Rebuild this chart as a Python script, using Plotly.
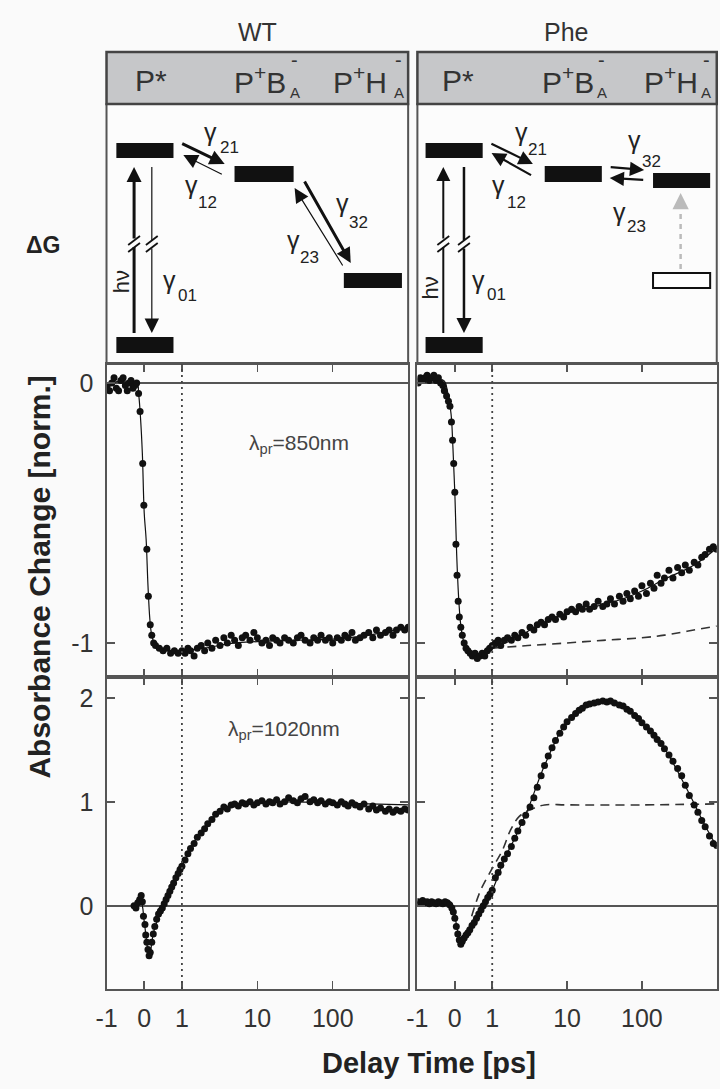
import math
import plotly.graph_objects as go

# ---------------------------------------------------------------- data
tick_vals = [-1, 0, 1, 10, 100]
tick_text = ["-1", "0", "1", "10", "100"]

# shared delay grid for the logarithmic part (ps)
log_t = [1.1, 1.2, 1.3, 1.45, 1.6, 1.8, 2.0, 2.2, 2.5, 2.8,
         3.2, 3.6, 4, 4.5, 5, 5.6, 6.3, 7, 8, 9,
         10, 11.5, 13, 14.5, 16, 18, 20, 23, 26, 30,
         34, 38, 43, 50, 56, 63, 70, 80, 90, 100,
         115, 130, 145, 160, 180, 200, 230, 260, 300, 340,
         380, 430, 500, 560, 630, 700, 800, 900, 1000]

# WT, 850 nm
wt850_early_t = [-0.98, -0.92, -0.86, -0.8, -0.74, -0.68, -0.62, -0.56, -0.5, -0.45,
                 -0.4, -0.35, -0.3, -0.25, -0.2, -0.15, -0.11, -0.04, -0.01, 0.07,
                 0.11, 0.16, 0.2, 0.25, 0.3, 0.4, 0.5, 0.6, 0.7, 0.8, 0.9, 1.0]
wt850_early_y = [-0.01, -0.03, 0.0, 0.02, -0.02, -0.03, 0.01, 0.02, -0.01, -0.03,
                 0.0, 0.01, -0.02, -0.01, 0.0, -0.04, -0.11, -0.31, -0.47, -0.64,
                 -0.82, -0.93, -0.97, -1.0, -1.01, -1.02, -1.03, -1.02, -1.04, -1.03, -1.04, -1.03]
wt850_log_y = [-1.04, -1.02, -1.03, -1.05, -1.02, -1.01, -1.03, -1.00, -1.02, -0.99,
               -1.01, -0.98, -1.00, -0.97, -0.99, -1.01, -0.98, -0.97, -0.99, -0.96,
               -0.98, -1.00, -0.99, -1.01, -0.98, -0.99, -1.00, -0.98, -0.99, -1.00,
               -0.98, -0.97, -0.99, -1.00, -0.98, -0.99, -0.97, -0.99, -0.98, -1.00,
               -0.98, -0.99, -0.97, -0.98, -0.96, -0.99, -0.98, -0.97, -0.96, -0.98,
               -0.95, -0.97, -0.96, -0.95, -0.97, -0.95, -0.94, -0.95, -0.94]
wt850_fit_t = [-1, -0.2, -0.15, -0.1, -0.05, 0, 0.05, 0.1, 0.15, 0.2, 0.3, 0.5, 0.8, 1,
               2, 5, 10, 30, 100, 300, 1000]
wt850_fit_y = [0, 0, -0.04, -0.13, -0.27, -0.5, -0.6, -0.78, -0.91, -0.97, -1.01, -1.025, -1.03, -1.03,
               -1.02, -1.0, -0.995, -0.99, -0.985, -0.97, -0.94]

# Phe, 850 nm
phe850_early_t = [-0.98, -0.92, -0.86, -0.8, -0.74, -0.68, -0.62, -0.56, -0.5, -0.44,
                  -0.38, -0.32, -0.28, -0.22, -0.17, -0.13, -0.09, -0.06, -0.03, 0.0,
                  0.03, 0.06, 0.09, 0.12, 0.16, 0.2, 0.25, 0.3, 0.35, 0.41,
                  0.47, 0.54, 0.6, 0.67, 0.73, 0.8, 0.87, 0.93, 1.0]
phe850_early_y = [0.0, 0.02, 0.01, 0.02, 0.03, 0.01, 0.02, 0.03, 0.01, 0.02,
                  0.0, -0.01, -0.03, -0.05, -0.07, -0.09, -0.15, -0.22, -0.31, -0.42,
                  -0.62, -0.74, -0.84, -0.90, -0.94, -0.97, -1.0, -1.02, -1.03, -1.04,
                  -1.05, -1.04, -1.06, -1.05, -1.04, -1.05, -1.03, -1.02, -1.01]
phe850_log_y = [-1.00, -0.99, -1.01, -0.99, -0.98, -0.99, -0.97, -0.98, -0.96, -0.97,
                -0.94, -0.95, -0.93, -0.92, -0.93, -0.91, -0.90, -0.91, -0.89, -0.90,
                -0.88, -0.87, -0.88, -0.86, -0.87, -0.85, -0.87, -0.86, -0.84, -0.86,
                -0.85, -0.83, -0.85, -0.82, -0.84, -0.81, -0.83, -0.80, -0.82, -0.78,
                -0.81, -0.77, -0.79, -0.74, -0.77, -0.75, -0.72, -0.75, -0.71, -0.73,
                -0.70, -0.72, -0.69, -0.70, -0.67, -0.66, -0.64, -0.63, -0.64]
phe850_fit_t = [-1, -0.3, -0.2, -0.1, -0.05, 0, 0.05, 0.1, 0.15, 0.2, 0.3, 0.5, 0.7, 1,
                1.5, 2, 3, 5, 10, 20, 50, 100, 200, 500, 1000]
phe850_fit_y = [0.015, 0.01, -0.03, -0.12, -0.25, -0.42, -0.66, -0.82, -0.92, -0.97, -1.02, -1.04, -1.045, -1.02,
                -1.0, -0.985, -0.955, -0.92, -0.885, -0.865, -0.835, -0.80, -0.755, -0.70, -0.635]
phe850_dash_t = [1, 3, 10, 30, 100, 200, 400, 1000]
phe850_dash_y = [-1.02, -1.01, -1.0, -0.99, -0.98, -0.97, -0.955, -0.935]

# WT, 1020 nm
wt1020_early_t = [-0.27, -0.22, -0.17, -0.12, -0.08, -0.05, -0.02, 0.02, 0.04, 0.07,
                  0.1, 0.13, 0.16, 0.2, 0.24, 0.28, 0.33, 0.38, 0.43, 0.48,
                  0.53, 0.58, 0.63, 0.68, 0.73, 0.78, 0.84, 0.9, 0.95, 1.0]
wt1020_early_y = [0.0, -0.02, 0.03, 0.06, 0.1, 0.04, -0.1, -0.18, -0.28, -0.35,
                  -0.42, -0.48, -0.45, -0.35, -0.27, -0.2, -0.13, -0.08, -0.05, -0.02,
                  0.02, 0.06, 0.1, 0.14, 0.18, 0.22, 0.27, 0.31, 0.35, 0.38]
wt1020_log_y = [0.44, 0.50, 0.55, 0.60, 0.66, 0.70, 0.74, 0.79, 0.83, 0.88,
                0.91, 0.95, 0.93, 0.97, 0.98, 0.96, 0.99, 0.98, 1.00, 0.97,
                0.99, 1.01, 0.98, 1.00, 0.99, 1.02, 0.98, 1.00, 1.04, 1.01,
                0.99, 1.03, 1.05, 1.00, 1.02, 0.99, 1.01, 0.98, 1.00, 0.99,
                0.97, 1.00, 0.98, 0.96, 0.99, 0.97, 0.95, 0.98, 0.93, 0.96,
                0.92, 0.94, 0.91, 0.93, 0.90, 0.92, 0.91, 0.93, 0.92]
wt1020_fit_t = [-0.27, -0.1, 0, 0.05, 0.1, 0.15, 0.25, 0.5, 0.75, 1, 1.5, 2, 3, 5, 10, 30, 100, 300, 1000]
wt1020_fit_y = [0.0, 0.05, -0.15, -0.3, -0.42, -0.45, -0.25, 0.0, 0.2, 0.38, 0.63, 0.75, 0.89, 0.97, 0.99, 1.0, 0.99, 0.98, 0.97]

# Phe, 1020 nm
phe1020_early_t = [-0.98, -0.92, -0.86, -0.8, -0.74, -0.68, -0.62, -0.56, -0.5, -0.44,
                   -0.38, -0.32, -0.26, -0.2, -0.14, -0.08, -0.04, 0.0, 0.04, 0.08,
                   0.12, 0.16, 0.2, 0.25, 0.3, 0.35, 0.4, 0.46, 0.52, 0.58,
                   0.64, 0.7, 0.76, 0.82, 0.88, 0.94, 1.0]
phe1020_early_y = [0.04, 0.03, 0.05, 0.03, 0.04, 0.02, 0.04, 0.03, 0.02, 0.04,
                   0.03, 0.02, 0.04, 0.03, 0.01, -0.02, -0.06, -0.12, -0.2, -0.27,
                   -0.33, -0.37, -0.34, -0.31, -0.28, -0.26, -0.23, -0.19, -0.16, -0.12,
                   -0.08, -0.04, 0.0, 0.04, 0.08, 0.11, 0.15]
phe1020_log_y = [0.27, 0.32, 0.39, 0.45, 0.50, 0.57, 0.65, 0.72, 0.80, 0.87,
                 0.95, 1.04, 1.14, 1.25, 1.35, 1.44, 1.52, 1.59, 1.66, 1.72,
                 1.77, 1.81, 1.85, 1.88, 1.90, 1.93, 1.94, 1.95, 1.96, 1.97,
                 1.96, 1.97, 1.95, 1.93, 1.92, 1.89, 1.87, 1.83, 1.80, 1.76,
                 1.72, 1.68, 1.64, 1.60, 1.56, 1.51, 1.45, 1.39, 1.32, 1.25,
                 1.16, 1.06, 0.97, 0.90, 0.82, 0.76, 0.67, 0.60, 0.58]
phe1020_fit_t = [-1, -0.1, 0, 0.08, 0.16, 0.3, 0.5, 0.75, 1, 1.5, 2, 3, 5, 10, 20, 35, 60, 100, 200, 400, 700, 1000]
phe1020_fit_y = [0.03, 0.03, -0.1, -0.25, -0.36, -0.29, -0.16, 0.0, 0.15, 0.47, 0.65, 0.93, 1.35, 1.77, 1.94, 1.97, 1.9, 1.76, 1.51, 1.12, 0.77, 0.57]
phe1020_dash_t = [0.45, 0.69, 1, 1.38, 1.76, 2.3, 3.35, 5, 10, 100, 1000]
phe1020_dash_y = [-0.1, 0.15, 0.36, 0.54, 0.73, 0.86, 0.93, 0.97, 0.97, 0.97, 0.98]

# ---------------------------------------------------------------- helpers
W, H = 720, 1089
BG = "#fafafa"
PLOT_BG = "#fcfcfc"
INK = "#111111"
AX = "#555555"
FONT = "Liberation Sans, Arial, Helvetica, sans-serif"


def tau(t):
    """linear delay axis up to 1 ps, logarithmic beyond"""
    return t if t <= 1 else 1 + 2 * math.log10(t)


def px(x):
    return x / W


def py(y):
    return 1 - y / H


fig = go.Figure()

panels = [
    ("x", "y", wt850_early_t + log_t, wt850_early_y + wt850_log_y, wt850_fit_t, wt850_fit_y, None, None),
    ("x2", "y2", phe850_early_t + log_t, phe850_early_y + phe850_log_y, phe850_fit_t, phe850_fit_y,
     phe850_dash_t, phe850_dash_y),
    ("x3", "y3", wt1020_early_t + log_t, wt1020_early_y + wt1020_log_y, wt1020_fit_t, wt1020_fit_y, None, None),
    ("x4", "y4", phe1020_early_t + log_t, phe1020_early_y + phe1020_log_y, phe1020_fit_t, phe1020_fit_y,
     phe1020_dash_t, phe1020_dash_y),
]
for xa, ya, dt, dy, ft, fy, dsh_t, dsh_y in panels:
    if dsh_t:
        fig.add_trace(go.Scatter(x=[tau(t) for t in dsh_t], y=dsh_y, mode="lines",
                                 line=dict(color="#333333", width=1.6, dash="9px,6px", shape="spline"),
                                 xaxis=xa, yaxis=ya, showlegend=False, hoverinfo="skip"))
    fig.add_trace(go.Scatter(x=[tau(t) for t in ft], y=fy, mode="lines",
                             line=dict(color=INK, width=1.2, shape="spline"),
                             xaxis=xa, yaxis=ya, showlegend=False, hoverinfo="skip"))
    fig.add_trace(go.Scatter(x=[tau(t) for t in dt], y=dy, mode="markers",
                             marker=dict(size=7, color=INK),
                             xaxis=xa, yaxis=ya, showlegend=False))

tickfont = dict(family=FONT, size=25, color="#333333")
XL = [97 / W, 403.3 / W]
XR = [412.7 / W, 716.7 / W]
Y1 = [py(677), py(364)]
Y2 = [py(989), py(677)]


def xax(dom, anchor, labels):
    return dict(domain=dom, anchor=anchor, range=[-1, 7],
                tickmode="array", tickvals=[tau(v) for v in tick_vals], ticktext=tick_text,
                showticklabels=labels, ticks="inside", ticklen=8, tickwidth=1.5, tickcolor=AX,
                showline=True, linecolor=AX, linewidth=2, mirror="ticks",
                showgrid=False, zeroline=False, tickfont=tickfont, ticklabelstandoff=6)


def yax(dom, anchor, rng, vals, labels):
    return dict(domain=dom, anchor=anchor, range=rng, tickmode="array", tickvals=vals,
                ticktext=[str(v) for v in vals], showticklabels=labels,
                ticks="inside", ticklen=8, tickwidth=1.5, tickcolor=AX,
                showline=True, linecolor=AX, linewidth=2, mirror="ticks",
                showgrid=False, zeroline=True, zerolinecolor=AX, zerolinewidth=1.8,
                tickfont=tickfont, ticklabelstandoff=6)


fig.update_layout(
    width=W, height=H, margin=dict(l=0, r=0, t=0, b=0),
    paper_bgcolor=BG, plot_bgcolor=PLOT_BG, showlegend=False,
    font=dict(family=FONT, color="#333333"),
    xaxis=xax(XL, "y", False), yaxis=yax(Y1, "x", [-1.131, 0.073], [0, -1], True),
    xaxis2=xax(XR, "y2", False), yaxis2=yax(Y1, "x2", [-1.131, 0.073], [0, -1], False),
    xaxis3=xax(XL, "y3", True), yaxis3=yax(Y2, "x3", [-0.80, 2.2], [0, 1, 2], True),
    xaxis4=xax(XR, "y4", True), yaxis4=yax(Y2, "x4", [-0.80, 2.2], [0, 1, 2], False),
)

# dotted line at 1 ps
for xr, yr in [("x", "y"), ("x2", "y2"), ("x3", "y3"), ("x4", "y4")]:
    fig.add_shape(type="line", xref=xr, yref=yr + " domain", x0=tau(1), x1=tau(1), y0=0, y1=1,
                  line=dict(color="#444444", width=1.8, dash="2px,4px"))

# ---------------------------------------------------------------- header + diagram frames
for x0, x1 in [(97, 403.3), (412.7, 716.7)]:
    fig.add_shape(type="rect", xref="paper", yref="paper", x0=px(x0), x1=px(x1), y0=py(364), y1=py(104),
                  fillcolor=PLOT_BG, line=dict(color=AX, width=2), layer="below")
    fig.add_shape(type="rect", xref="paper", yref="paper", x0=px(x0), x1=px(x1), y0=py(104), y1=py(52),
                  fillcolor="#c6c7c9", line=dict(color="#444444", width=2.5))


def label(x, y, text, size, color="#333333", xanchor="center", angle=0):
    fig.add_annotation(x=px(x), y=py(y), xref="paper", yref="paper", text=text, showarrow=False,
                       font=dict(family=FONT, size=size, color=color), xanchor=xanchor, yanchor="middle",
                       textangle=angle)


label(250, 32, "WT", 25)
label(564, 32, "Phe", 25)

# state labels in header
for pstar, pb, pb_sub, ph, ph_sub in [(124, 224, 288, 325, 394), (436, 537, 600, 641, 706)]:
    label(pstar, 80, "P*", 30, xanchor="left")
    label(pb, 80, "P<sup>+</sup>B", 30, xanchor="left")
    label(pb_sub, 60, "-", 20)
    label(pb_sub, 93, "A", 15)
    label(ph, 80, "P<sup>+</sup>H", 30, xanchor="left")
    label(ph_sub, 60, "-", 20)
    label(ph_sub, 93, "A", 15)

# energy levels
levels = [(107, 165, 143, 158, True), (107, 165, 337, 353, True), (227, 287, 166, 182, True),
          (338, 397, 273, 288, True),
          (421, 479, 143, 158, True), (421, 479, 337, 353, True), (542, 600, 166, 182, True),
          (652, 710, 173, 188, True), (652, 710, 273, 288, False)]
for x0, x1, y0, y1, filled in levels:
    fig.add_shape(type="rect", xref="paper", yref="paper", x0=px(x0), x1=px(x1), y0=py(y1), y1=py(y0),
                  fillcolor=INK if filled else "#ffffff",
                  line=dict(color=INK, width=0 if filled else 2))


def arrow(x0, y0, x1, y1, w, size, color=INK, head=2):
    fig.add_annotation(x=px(x1), y=py(y1), xref="paper", yref="paper", ax=x0 - x1, ay=y0 - y1,
                       axref="pixel", ayref="pixel", showarrow=True, arrowhead=head, arrowsize=size,
                       arrowwidth=w, arrowcolor=color, text="", standoff=0, startstandoff=0)


def seg(x0, y0, x1, y1, w, color=INK, dash=None):
    fig.add_shape(type="line", xref="paper", yref="paper", x0=px(x0), y0=py(y0), x1=px(x1), y1=py(y1),
                  line=dict(color=color, width=w, dash=dash))


def broken_up(x, w, size):
    seg(x, 333, x, 247, w)
    arrow(x, 240, x, 167, w, size)
    seg(x - 6, 245, x + 6, 236, 1.8)
    seg(x - 6, 252, x + 6, 243, 1.8)


def broken_down(x, w, size):
    seg(x, 167, x, 240, w)
    arrow(x, 247, x, 333, w, size)
    seg(x - 6, 245, x + 6, 236, 1.8)
    seg(x - 6, 252, x + 6, 243, 1.8)


# WT diagram
broken_up(125, 3, 1.0)
broken_down(143, 1.2, 2.4)
arrow(173, 143, 217, 164, 3, 1.0)
arrow(215, 175, 175, 155, 1.2, 2.4)
arrow(298, 180, 345, 263, 3, 1.0)
arrow(337, 267, 288, 188, 1.2, 2.4)

# Phe diagram
broken_up(439, 2, 1.4)
broken_down(460, 2.5, 1.2)
arrow(487, 143, 530, 164, 2.2, 1.3)
arrow(529, 176, 488, 153, 2.2, 1.3)
arrow(608, 167, 643, 170, 2.2, 1.3)
arrow(643, 180, 608, 178, 2.2, 1.3)
seg(680, 269, 680, 205, 2.5, color="#bbbbbb", dash="5px,5px")
arrow(680, 206, 680, 193, 2.5, 1.3, color="#bbbbbb")

# rate labels
rates = [(203, 132, 222, 148, "21"), (183, 185, 200, 203, "12"), (337, 203, 353, 222, "32"),
         (287, 240, 303, 257, "23"), (161, 280, 179, 295, "01"),
         (518, 132, 535, 149, "21"), (495, 185, 513, 203, "12"), (633, 140, 650, 162, "32"),
         (618, 212, 635, 227, "23"), (475, 280, 493, 294, "01")]
for gx, gy, sx, sy, sub in rates:
    label(gx, gy, "γ", 25, color="#222222")
    label(sx, sy, sub, 17, color="#222222")
label(113, 282, "hν", 22, color="#222222", angle=-90)
label(425, 288, "hν", 22, color="#222222", angle=-90)
label(33, 245, "<b>ΔG</b>", 23, color="#222222")

# probe wavelength labels
label(240, 444, "λ<sub>pr</sub>=850nm", 21, color="#444444", xanchor="left")
label(218, 730, "λ<sub>pr</sub>=1020nm", 21, color="#444444", xanchor="left")

# axis titles
label(28, 577, "<b>Absorbance Change [norm.]</b>", 30, color="#222222", angle=-90)
label(424, 1063, "<b>Delay Time [ps]</b>", 29, color="#222222")

fig.write_html("out.html",
               config={"displayModeBar": False, "staticPlot": True},
               post_script="document.body.style.margin='0';document.body.style.padding='0';"
                           "document.documentElement.style.overflow='hidden';")
